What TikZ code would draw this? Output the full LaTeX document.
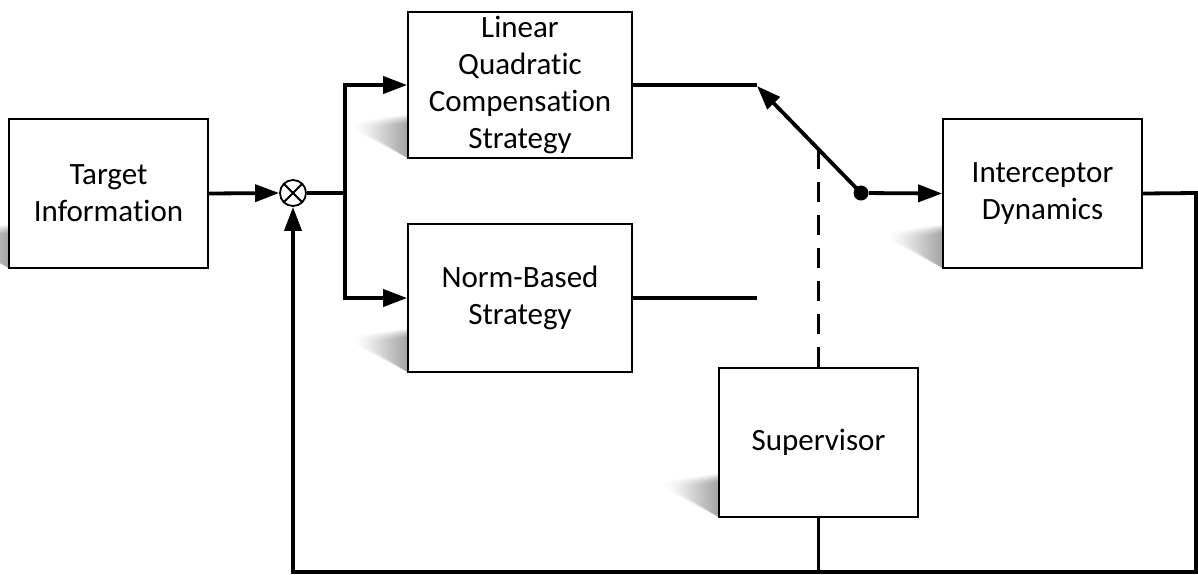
\documentclass[tikz,border=0pt]{standalone}
\usepackage{fontspec}
\setmainfont{Carlito}[Ligatures={NoCommon}]
\usetikzlibrary{arrows.meta,calc,backgrounds}
\newcommand\boxshadow[1]{%
  \foreach \i in {0,...,5}{%
  \shade[left color=white,right color=black,opacity=0.07]
  ($(#1.south west)+(0,-44+1.5*\i)$) -- ($(#1.south west)+(-58+3*\i,-36+1.2*\i)$) --
  ($(#1.south west)+(-50+3*\i,-27+0.5*\i)$) -- ($(#1.south west)+(0,-1)$) -- cycle;}}
\begin{document}
\begin{tikzpicture}[x=0.5pt,y=-0.5pt,
  blk/.style={draw,line width=0.85pt,fill=white,align=center,inner sep=0pt,
    font=\fontsize{15.5}{18.5}\selectfont},
  wire/.style={line width=1.9pt},
  arr/.style={wire,-{Triangle[length=12pt,width=8.5pt]}},
  dotnode/.style={circle,fill=black,inner sep=0pt,minimum size=7.5pt},
  sumnode/.style={circle,draw,line width=0.9pt,fill=white,inner sep=0pt,minimum size=13pt},
  dashline/.style={line width=1.9pt,dash pattern=on 10pt off 6.5pt}
]
\useasboundingbox (0,0) rectangle (1198,574);
\node[blk,minimum width=99.5pt,minimum height=74.5pt] (ti) at (108.5,193.5) {Target\\Information};
\node[blk,minimum width=112pt,minimum height=73pt] (lq) at (520,85) {Linear\\Quadratic\\Compensation\\Strategy};
\node[blk,minimum width=112pt,minimum height=74pt] (nb) at (520,298) {Norm-Based\\Strategy};
\node[blk,minimum width=99.5pt,minimum height=74.5pt] (id) at (1042.5,193.5) {Interceptor\\Dynamics};
\node[blk,minimum width=99.5pt,minimum height=74.5pt] (sup) at (818.5,442.5) {Supervisor};
\node[sumnode] (sum) at (293,193) {};
\draw[line width=0.9pt] (sum.north west) -- (sum.south east) (sum.north east) -- (sum.south west);
\node[dotnode] (dot) at (861,193) {};
\begin{scope}[on background layer]
\boxshadow{ti}
\boxshadow{lq}
\boxshadow{nb}
\boxshadow{id}
\boxshadow{sup}
\end{scope}
\coordinate (br) at (345,193);
\coordinate (lqend) at (757,86);
\coordinate (fr) at (1196,193);
\coordinate (fb) at (1196,572);
\coordinate (sw) at ($(dot)!0.4!(lqend)$);
\draw[arr] (ti.east) -- (sum.west);
\draw[wire] (sum.east) -- (br);
\draw[arr] (br) |- (lq.west);
\draw[arr] (br) |- (nb.west);
\draw[wire] (lq.east) -- (lq.east -| lqend);
\draw[wire] (nb.east) -- (nb.east -| lqend);
\draw[arr] (dot.center) -- (lqend);
\draw[arr] (dot) -- (id.west);
\draw[dashline] (sup.north) -- (sup.north |- sw);
\draw[arr] (id.east) -- (fr) -- (fb) -- (fb -| sum) -- (sum.south);
\draw[wire] (sup.south) -- (sup.south |- fb);
\end{tikzpicture}
\end{document}
